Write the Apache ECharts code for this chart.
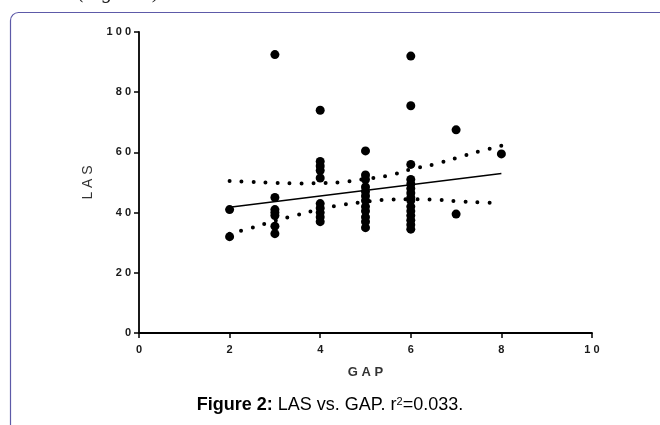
<!DOCTYPE html>
<html>
<head>
<meta charset="utf-8">
<script src="https://cdn.jsdelivr.net/npm/echarts@6/dist/echarts.min.js"></script>
<style>
html,body{margin:0;padding:0;background:#fff;}
#chart{width:660px;height:425px;}
</style>
</head>
<body>
<div id="chart"></div>
<script>
// ---- data ----
const gapValues = [
  2, 2,
  3, 3, 3, 3, 3, 3, 3,
  4, 4, 4, 4, 4, 4, 4, 4, 4, 4,
  5, 5, 5, 5, 5, 5, 5, 5, 5, 5, 5, 5,
  6, 6, 6, 6, 6, 6, 6, 6, 6, 6, 6, 6, 6, 6, 6,
  7, 7,
  8
];
const lasValues = [
  41, 32,
  92.5, 45, 41, 40, 39, 35.5, 33,
  74, 57, 55.5, 54, 51.5, 43, 41.5, 40, 38.5, 37,
  60.5, 52.5, 51, 48.5, 47, 45.5, 44, 42, 40.5, 38.5, 37, 35,
  92, 75.5, 56, 51, 49.5, 48, 46.5, 45, 44, 42, 40.5, 39, 37.5, 36, 34.5,
  67.5, 39.5,
  59.5
];
// regression line endpoints
const fitX = [2, 8];
const fitY = [41.8, 53];
// 95% confidence band
const bandX = [2, 2.5, 3, 3.5, 4, 4.5, 5, 5.5, 6, 6.5, 7, 7.5, 8];
const bandUpper = [50.5, 50.2, 49.9, 49.7, 49.8, 50.2, 51.2, 52.3, 54.4, 56, 58.1, 60.3, 62.2];
const bandLower = [33, 35, 37.3, 39.2, 41.2, 42.6, 43.6, 44.3, 44.4, 44.3, 43.8, 43.4, 43.2];
const xTicks = [0, 2, 4, 6, 8, 10];
const yTicks = [0, 20, 40, 60, 80, 100];

const spaced = v => String(v).split('').join(' ');
const zip = (a, b) => a.map((v, i) => [v, b[i]]);

const chart = echarts.init(document.getElementById('chart'), null, {renderer: 'canvas'});
const labelFont = {fontFamily: 'Liberation Sans, Arial, sans-serif', fontWeight: 'bold', fontSize: 11, color: '#1a1a1a'};
const dotted = {color: '#000', width: 4, type: [0, 12], cap: 'round'};

chart.setOption({
  animation: false,
  backgroundColor: '#fff',
  grid: {left: 139, right: 68, top: 32, bottom: 92, containLabel: false},
  xAxis: {
    type: 'value', min: xTicks[0], max: xTicks[xTicks.length - 1], interval: 2,
    name: 'G A P', nameLocation: 'middle', nameGap: 33,
    nameTextStyle: {fontFamily: 'Liberation Sans, Arial, sans-serif', fontWeight: 'bold', fontSize: 13, color: '#333'},
    axisLine: {lineStyle: {color: '#000', width: 1.8}},
    axisTick: {show: true, length: 5, lineStyle: {color: '#000', width: 1.5}},
    axisLabel: Object.assign({margin: 11, formatter: v => spaced(v)}, labelFont),
    splitLine: {show: false}
  },
  yAxis: {
    type: 'value', min: yTicks[0], max: yTicks[yTicks.length - 1], interval: 20,
    name: 'L A S', nameLocation: 'middle', nameGap: 37, nameRotate: 90,
    nameTextStyle: {fontFamily: 'Liberation Sans, Arial, sans-serif', fontSize: 14, color: '#333'},
    axisLine: {show: true, lineStyle: {color: '#000', width: 1.8}},
    axisTick: {show: true, length: 5, lineStyle: {color: '#000', width: 1.5}},
    axisLabel: Object.assign({margin: 8, formatter: v => spaced(v)}, labelFont),
    splitLine: {show: false}
  },
  series: [
    {
      type: 'line', data: zip(bandX, bandUpper), smooth: true, symbol: 'none',
      lineStyle: dotted, z: 2, silent: true
    },
    {
      type: 'line', data: zip(bandX, bandLower), smooth: true, symbol: 'none',
      lineStyle: dotted, z: 2, silent: true
    },
    {
      type: 'line', data: zip(fitX, fitY), symbol: 'none',
      lineStyle: {color: '#000', width: 1.5}, z: 3, silent: true
    },
    {
      type: 'scatter', data: zip(gapValues, lasValues), symbol: 'circle', symbolSize: 9,
      itemStyle: {color: '#000', opacity: 1}, z: 4, silent: true
    }
  ],
  graphic: [
    {
      type: 'rect', silent: true, z: 0,
      shape: {x: 10.5, y: 12.5, width: 720, height: 500, r: 8},
      style: {fill: 'none', stroke: '#5d5aa8', lineWidth: 1.2}
    },
    {
      type: 'text', left: 78, top: -17, silent: true,
      style: {text: '(Figure 1)', font: 'italic 20px "Liberation Serif", serif', fill: '#222'}
    },
    {
      type: 'text', silent: true, left: 'center', top: 396,
      style: {
        text: '{b|Figure 2:}{n| LAS vs. GAP. r}{s|2}{n|=0.033.}',
        rich: {
          b: {font: 'bold 18px "Liberation Sans", Arial, sans-serif', fill: '#000'},
          n: {font: '18px "Liberation Sans", Arial, sans-serif', fill: '#000'},
          s: {font: '11px "Liberation Sans", Arial, sans-serif', fill: '#000', verticalAlign: 'top', padding: [0, 0, 8, 0]}
        }
      }
    }
  ]
});
</script>
</body>
</html>
